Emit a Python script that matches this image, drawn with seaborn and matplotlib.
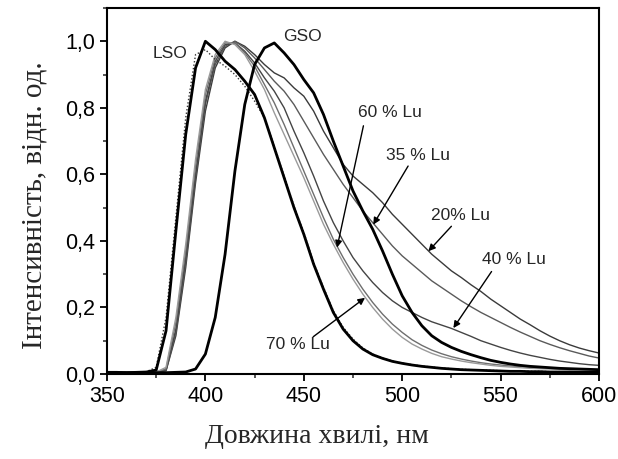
import numpy as np
import pandas as pd
import matplotlib
matplotlib.use("Agg")
import matplotlib.pyplot as plt
import seaborn as sns
from matplotlib.ticker import MultipleLocator

# ---- data ----
wavelength = list(range(350, 605, 5))

lso = [0.005, 0.005, 0.004, 0.005, 0.006, 0.012, 0.13, 0.43, 0.72, 0.92,
       1.00, 0.975, 0.94, 0.915, 0.88, 0.84, 0.77, 0.68, 0.59, 0.50,
       0.42, 0.33, 0.255, 0.185, 0.135, 0.10, 0.075, 0.058, 0.047, 0.038,
       0.032, 0.027, 0.023, 0.020, 0.017, 0.015, 0.013, 0.012, 0.011, 0.010,
       0.009, 0.008, 0.008, 0.007, 0.007, 0.006, 0.006, 0.006, 0.005, 0.005, 0.005]

lso_dotted = [0.005, 0.005, 0.004, 0.005, 0.007, 0.02, 0.17, 0.47, 0.77, 0.96,
              0.975, 0.945, 0.925, 0.90, 0.865, 0.82, 0.77, 0.685, 0.595, 0.505,
              0.425, 0.335, 0.26, 0.19, 0.14, 0.105, 0.078, 0.06, 0.048, 0.039,
              0.033, 0.028, 0.024, 0.021, 0.018, 0.016, 0.014, 0.013, 0.012, 0.011,
              0.010, 0.009, 0.009, 0.008, 0.008, 0.007, 0.007, 0.006, 0.006, 0.006, 0.006]

gso = [0.004, 0.004, 0.004, 0.004, 0.004, 0.004, 0.004, 0.005, 0.006, 0.015,
       0.06, 0.17, 0.36, 0.61, 0.81, 0.93, 0.98, 0.995, 0.965, 0.93,
       0.885, 0.845, 0.78, 0.70, 0.625, 0.55, 0.49, 0.435, 0.37, 0.30,
       0.235, 0.185, 0.145, 0.115, 0.095, 0.08, 0.068, 0.058, 0.049, 0.041,
       0.035, 0.030, 0.026, 0.023, 0.021, 0.019, 0.017, 0.016, 0.015, 0.014, 0.013]

lu70 = [0.004, 0.004, 0.004, 0.004, 0.005, 0.006, 0.02, 0.17, 0.39, 0.645,
        0.855, 0.96, 1.00, 0.99, 0.96, 0.91, 0.855, 0.785, 0.72, 0.655,
        0.59, 0.52, 0.45, 0.39, 0.335, 0.285, 0.24, 0.20, 0.165, 0.135,
        0.11, 0.09, 0.075, 0.062, 0.052, 0.045, 0.039, 0.034, 0.030, 0.026,
        0.023, 0.021, 0.019, 0.017, 0.016, 0.015, 0.014, 0.013, 0.012, 0.012, 0.011]

lu60 = [0.004, 0.004, 0.004, 0.004, 0.005, 0.006, 0.015, 0.155, 0.37, 0.625,
        0.84, 0.95, 0.995, 0.995, 0.965, 0.925, 0.87, 0.815, 0.75, 0.68,
        0.61, 0.54, 0.47, 0.405, 0.35, 0.30, 0.255, 0.215, 0.18, 0.15,
        0.125, 0.103, 0.086, 0.072, 0.061, 0.052, 0.045, 0.039, 0.034, 0.030,
        0.027, 0.024, 0.022, 0.020, 0.018, 0.017, 0.016, 0.015, 0.014, 0.013, 0.012]

lu40 = [0.004, 0.004, 0.004, 0.004, 0.005, 0.006, 0.012, 0.135, 0.35, 0.60,
        0.82, 0.94, 0.99, 0.995, 0.97, 0.935, 0.89, 0.85, 0.80, 0.73,
        0.665, 0.595, 0.52, 0.455, 0.40, 0.35, 0.31, 0.275, 0.245, 0.22,
        0.20, 0.185, 0.17, 0.157, 0.147, 0.137, 0.125, 0.113, 0.10, 0.09,
        0.08, 0.071, 0.063, 0.056, 0.05, 0.044, 0.039, 0.035, 0.031, 0.028, 0.026]

lu35 = [0.004, 0.004, 0.004, 0.004, 0.005, 0.006, 0.01, 0.125, 0.335, 0.59,
        0.81, 0.93, 0.985, 1.00, 0.98, 0.95, 0.915, 0.88, 0.85, 0.81,
        0.76, 0.71, 0.66, 0.615, 0.57, 0.53, 0.49, 0.455, 0.42, 0.385,
        0.355, 0.33, 0.305, 0.28, 0.26, 0.24, 0.22, 0.202, 0.185, 0.17,
        0.155, 0.14, 0.126, 0.113, 0.10, 0.089, 0.079, 0.07, 0.062, 0.054, 0.048]

lu20 = [0.004, 0.004, 0.004, 0.004, 0.005, 0.006, 0.01, 0.115, 0.32, 0.575,
        0.79, 0.92, 0.98, 1.00, 0.985, 0.96, 0.93, 0.905, 0.89, 0.86,
        0.835, 0.79, 0.73, 0.68, 0.63, 0.595, 0.57, 0.545, 0.515, 0.48,
        0.45, 0.42, 0.39, 0.36, 0.335, 0.31, 0.29, 0.268, 0.248, 0.225,
        0.205, 0.185, 0.165, 0.148, 0.13, 0.114, 0.10, 0.088, 0.078, 0.07, 0.063]

x_ticks = [350, 400, 450, 500, 550, 600]
y_ticks = [0.0, 0.2, 0.4, 0.6, 0.8, 1.0]
y_tick_labels = ["0,0", "0,2", "0,4", "0,6", "0,8", "1,0"]

# ---- plotting ----
sns.set_theme(style="ticks")
plt.rcParams["font.family"] = ["Liberation Sans", "DejaVu Sans"]

fig = plt.figure(figsize=(6.18, 4.59), dpi=100)
ax = fig.add_axes([107 / 618, 1 - 374 / 459, (599 - 107) / 618, (374 - 8) / 459])

series = [
    (lu20, "#3a3a3a", 1.0, "-"),
    (lu35, "#5a5a5a", 1.0, "-"),
    (lu40, "#444444", 1.0, "-"),
    (lu60, "#6e6e6e", 1.0, "-"),
    (lu70, "#9a9a9a", 1.0, "-"),
    (lso_dotted, "#333333", 1.0, (0, (1, 1.5))),
    (lso, "black", 2.0, "-"),
    (gso, "black", 2.0, "-"),
]
for vals, col, lw, ls in series:
    df = pd.DataFrame({"wl": wavelength, "I": vals})
    sns.lineplot(data=df, x="wl", y="I", ax=ax, color=col, lw=lw, linestyle=ls)

ax.set_xlim(350, 600)
ax.set_ylim(0, 1.1)
ax.set_xticks(x_ticks)
ax.set_xticklabels([str(t) for t in x_ticks])
ax.set_yticks(y_ticks)
ax.set_yticklabels(y_tick_labels)
ax.xaxis.set_minor_locator(MultipleLocator(25))
ax.yaxis.set_minor_locator(MultipleLocator(0.1))
ax.tick_params(which="major", direction="out", length=5, width=1.3, labelsize=15.5, colors="black")
ax.tick_params(which="minor", direction="out", length=3, width=1.1)
for sp in ax.spines.values():
    sp.set_linewidth(1.5)
    sp.set_color("black")

serif = ["Liberation Serif", "DejaVu Serif"]
ax.set_xlabel("Довжина хвилі, нм", family=serif, fontsize=20, va="center")
ax.xaxis.set_label_coords(0.427, -0.172)
ax.set_ylabel("Інтенсивність, відн. од.", family=serif, fontsize=21, va="center")
ax.yaxis.set_label_coords(-0.148, 0.46)

tfs = 12.5
ax.text(381.8, 0.963, "LSO", fontsize=tfs, ha="center", va="center")
ax.text(449.3, 1.015, "GSO", fontsize=tfs, ha="center", va="center")
ax.text(494, 0.785, "60 % Lu", fontsize=tfs, ha="center", va="center")
ax.text(507.8, 0.656, "35 % Lu", fontsize=tfs, ha="center", va="center")
ax.text(529.4, 0.475, "20% Lu", fontsize=tfs, ha="center", va="center")
ax.text(557, 0.344, "40 % Lu", fontsize=tfs, ha="center", va="center")
ax.text(447, 0.089, "70 % Lu", fontsize=tfs, ha="center", va="center")

arrows = [
    ((480.3, 0.746), (466.9, 0.38)),
    ((503.0, 0.625), (485.3, 0.449)),
    ((525.0, 0.444), (513.3, 0.369)),
    ((545.4, 0.308), (526.0, 0.138)),
    ((454.8, 0.112), (481.1, 0.229)),
]
for start, tip in arrows:
    ax.annotate("", xy=tip, xytext=start,
                arrowprops=dict(arrowstyle="-|>", color="black", lw=1.0,
                                mutation_scale=10, shrinkA=0, shrinkB=0))

fig.savefig("out.png", dpi=100)
